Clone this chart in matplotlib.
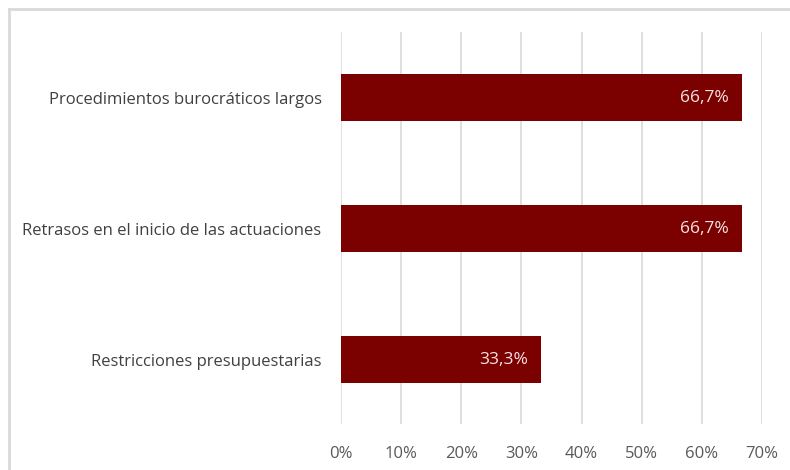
import matplotlib
matplotlib.use("Agg")
import matplotlib.pyplot as plt
from matplotlib.lines import Line2D

categories = ["Procedimientos burocráticos largos",
              "Retrasos en el inicio de las actuaciones",
              "Restricciones presupuestarias"]
values = [66.7, 66.7, 33.3]
value_labels = ["66,7%", "66,7%", "33,3%"]
xticks = [0, 10, 20, 30, 40, 50, 60, 70]
xtick_labels = ["0%", "10%", "20%", "30%", "40%", "50%", "60%", "70%"]

plt.rcParams['font.family'] = ['Open Sans', 'DejaVu Sans']

fig = plt.figure(figsize=(7.9, 4.7), dpi=100)
fig.patch.set_facecolor('white')
bx = 9 / 790
by = 1 - 9 / 470
fig.add_artist(Line2D([bx, bx], [0, by], transform=fig.transFigure, color='#d9d9d9', linewidth=2))
fig.add_artist(Line2D([bx, 1], [by, by], transform=fig.transFigure, color='#d9d9d9', linewidth=2))

ax = fig.add_axes([341/790, 1 - 424/470, 421/790, 392/470])
ypos = list(range(len(categories)))[::-1]
ax.barh(ypos, values, height=0.36, color='#7b0000', zorder=3)
for y, v, lab in zip(ypos, values, value_labels):
    ax.text(v - 2.2, y, lab, ha='right', va='center', color='#f7e4e4', fontsize=12.5, zorder=4)

ax.set_xlim(0, 70)
ax.set_ylim(-0.49, 2.5)
ax.set_xticks(xticks)
ax.set_xticklabels(xtick_labels, color='#595959', fontsize=12)
ax.set_yticks(ypos)
ax.set_yticklabels(categories, color='#404040', fontsize=12)
ax.tick_params(axis='x', length=0, pad=16)
ax.tick_params(axis='y', length=0, pad=14)
ax.grid(axis='x', color='#d9d9d9', linewidth=1.2, zorder=0)
for s in ax.spines.values():
    s.set_visible(False)

fig.savefig("out.png", dpi=100)
